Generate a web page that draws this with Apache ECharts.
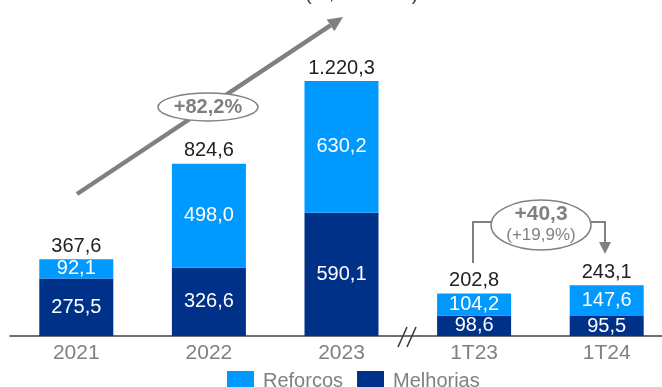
<!DOCTYPE html>
<html>
<head>
<meta charset="utf-8">
<script src="https://cdn.jsdelivr.net/npm/echarts@6/dist/echarts.min.js"></script>
<style>html,body{margin:0;padding:0;background:#fff;}#c{width:662px;height:387px;}</style>
</head>
<body>
<div id="c"></div>
<script>
const categories = ['2021', '2022', '2023', '1T23', '1T24'];
const melhorias = [275.5, 326.6, 590.1, 98.6, 95.5];
const reforcos = [92.1, 498.0, 630.2, 104.2, 147.6];
const totals = [367.6, 824.6, 1220.3, 202.8, 243.1];

const FONT = "'Liberation Sans', Arial, sans-serif";
const LIGHT = '#0099FF';
const DARK = '#003189';
const GRAY = '#808080';

function fmt(v) {
  const parts = v.toFixed(1).split('.');
  const int = parts[0].replace(/\B(?=(\d{3})+(?!\d))/g, '.');
  return int + ',' + parts[1];
}

const chart = echarts.init(document.getElementById('c'));

// Arrow geometry (annotation)
const a0 = [77, 194], a1 = [343, 17];
const dx = a1[0] - a0[0], dy = a1[1] - a0[1];
const len = Math.sqrt(dx * dx + dy * dy);
const ux = dx / len, uy = dy / len;
const hl = 15, hw = 7;
const bx = a1[0] - ux * hl, by = a1[1] - uy * hl;
const px = -uy, py = ux;

chart.setOption({
  animation: false,
  grid: { left: 10, width: 663, top: 10, height: 326, outerBoundsMode: 'none', containLabel: false },
  legend: {
    data: [
      { name: 'Reforcos', itemStyle: { color: LIGHT } },
      { name: 'Melhorias', itemStyle: { color: DARK } }
    ],
    left: 227, top: 371, padding: 0,
    itemWidth: 27, itemHeight: 20, itemGap: 14,
    icon: 'rect',
    textStyle: { fontFamily: FONT, fontSize: 20, color: GRAY, padding: [0, 0, 0, 4] }
  },
  xAxis: {
    type: 'category',
    data: categories,
    axisTick: { show: false },
    axisLine: { lineStyle: { color: '#404040', width: 1.5 } },
    axisLabel: { fontFamily: FONT, fontSize: 21, color: GRAY, margin: 7 }
  },
  yAxis: { type: 'value', min: 0, max: 1560, show: false, splitLine: { show: false } },
  series: [
    {
      name: 'Melhorias', type: 'bar', stack: 't', barWidth: 74,
      data: melhorias,
      itemStyle: { color: DARK },
      label: { show: true, position: 'inside', color: '#fff', fontFamily: FONT, fontSize: 20,
        formatter: p => fmt(p.value) }
    },
    {
      name: 'Reforcos', type: 'bar', stack: 't', barWidth: 74,
      data: reforcos,
      itemStyle: { color: LIGHT },
      label: { show: true, position: 'inside', color: '#fff', fontFamily: FONT, fontSize: 20,
        formatter: p => fmt(p.value) }
    },
    {
      name: 'Total', type: 'bar', barWidth: 74, barGap: '-100%', silent: true, z: 1,
      data: totals,
      itemStyle: { color: 'rgba(0,0,0,0)' },
      label: { show: true, position: 'top', distance: 3, color: '#222', fontFamily: FONT, fontSize: 20,
        formatter: p => fmt(p.value) }
    }
  ],
  graphic: [
    { type: 'text', left: 305, top: -16,
      style: { text: '(R$ milhões)', fontFamily: FONT, fontSize: 20, fill: '#404040' } },
    { type: 'line', shape: { x1: a0[0], y1: a0[1], x2: bx, y2: by },
      style: { stroke: GRAY, lineWidth: 4.5 } },
    { type: 'polygon', shape: { points: [[a1[0], a1[1]], [bx + px * hw, by + py * hw], [bx - px * hw, by - py * hw]] },
      style: { fill: GRAY } },
    { type: 'ellipse', shape: { cx: 208, cy: 107, rx: 50, ry: 14 },
      style: { fill: '#fff', stroke: GRAY, lineWidth: 1.5 } },
    { type: 'text', x: 208, y: 107,
      style: { text: '+82,2%', fontFamily: FONT, fontSize: 20, fontWeight: 'bold', fill: GRAY, align: 'center', verticalAlign: 'middle' } },
    // break marks
    { type: 'line', shape: { x1: 398, y1: 347, x2: 407, y2: 327 }, style: { stroke: '#333', lineWidth: 1.5 } },
    { type: 'line', shape: { x1: 407, y1: 347, x2: 416, y2: 327 }, style: { stroke: '#333', lineWidth: 1.5 } },
    // right annotation
    { type: 'polyline', shape: { points: [[473, 263], [473, 222], [492, 222]] },
      style: { stroke: GRAY, lineWidth: 2, fill: null } },
    { type: 'polyline', shape: { points: [[590, 222], [605, 222], [605, 243]] },
      style: { stroke: GRAY, lineWidth: 2, fill: null } },
    { type: 'polygon', shape: { points: [[599, 242], [611, 242], [605, 254]] }, style: { fill: GRAY } },
    { type: 'ellipse', shape: { cx: 541, cy: 225, rx: 50, ry: 25 },
      style: { fill: '#fff', stroke: GRAY, lineWidth: 1.5 } },
    { type: 'text', x: 541, y: 214,
      style: { text: '+40,3', fontFamily: FONT, fontSize: 21, fontWeight: 'bold', fill: GRAY, align: 'center', verticalAlign: 'middle' } },
    { type: 'text', x: 541, y: 235,
      style: { text: '(+19,9%)', fontFamily: FONT, fontSize: 17, fill: GRAY, align: 'center', verticalAlign: 'middle' } }
  ]
});
</script>
</body>
</html>
